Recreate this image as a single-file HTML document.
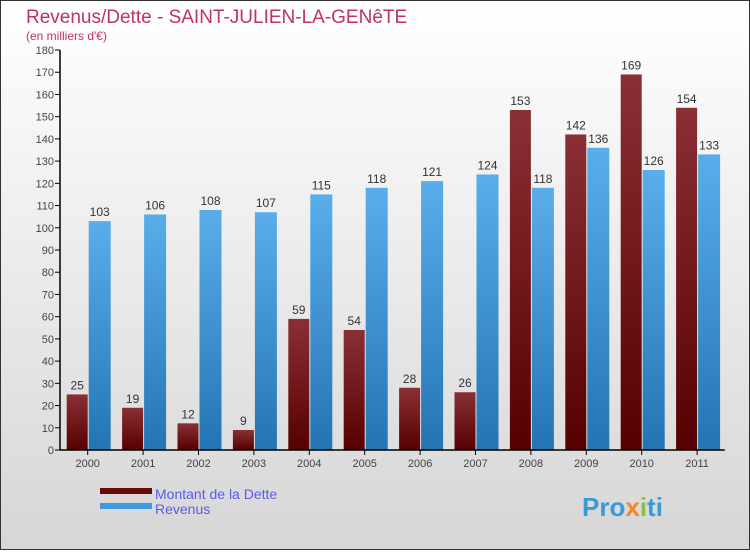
<!DOCTYPE html>
<html><head><meta charset="utf-8"><style>
body{margin:0}
#c{width:750px;height:550px;position:relative;font-family:"Liberation Sans",sans-serif}
</style></head><body>
<div id="c">
<svg id="s" width="750" height="550" xmlns="http://www.w3.org/2000/svg">
<defs>
<linearGradient id="bg" x1="0" y1="0" x2="0" y2="1"><stop offset="0" stop-color="#ffffff"/><stop offset="1" stop-color="#d6d6d6"/></linearGradient>
<linearGradient id="gd" x1="0" y1="0" x2="0" y2="1"><stop offset="0" stop-color="#8a3035"/><stop offset="1" stop-color="#560000"/></linearGradient>
<linearGradient id="gr" x1="0" y1="0" x2="0" y2="1"><stop offset="0" stop-color="#59aeea"/><stop offset="1" stop-color="#2474b4"/></linearGradient>
</defs>
<rect x="0.5" y="0.5" width="749" height="549" fill="url(#bg)" stroke="#333"/>
<text x="26" y="23" font-size="19" fill="#c0306a">Revenus/Dette - SAINT-JULIEN-LA-GENêTE</text>
<text x="26" y="40" font-size="12" fill="#c0306a">(en milliers d'€)</text>
<g id="plot"></g>
<rect x="100" y="488" width="52" height="6" fill="#6a0a0a"/>
<text x="155" y="499" font-size="14" fill="#5a5af0">Montant de la Dette</text>
<rect x="100" y="503" width="52" height="6" fill="#3d9ae0"/>
<text x="155" y="514" font-size="14" fill="#5a5af0">Revenus</text>
<text x="582" y="516" font-size="26" font-weight="bold" fill="#3a9ad8">Pro<tspan fill="#f08a20">x</tspan><tspan fill="#8cc040">i</tspan>ti</text>
</svg>
</div>
<script>
const years=["2000","2001","2002","2003","2004","2005","2006","2007","2008","2009","2010","2011"];
const dette=[25,19,12,9,59,54,28,26,153,142,169,154];
const revenus=[103,106,108,107,115,118,121,124,118,136,126,133];
const ticks=[0,10,20,30,40,50,60,70,80,90,100,110,120,130,140,150,160,170,180];
const NS="http://www.w3.org/2000/svg";
const g=document.getElementById("plot");
const x0=60,band=55.4,yb=450,yt=50,ymax=180;
const y=v=>yb-(v/ymax)*(yb-yt);
const cx=i=>x0+band*(i+0.5);
function mk(t,a){const e=document.createElementNS(NS,t);for(const k in a)e.setAttribute(k,a[k]);g.appendChild(e);return e;}
ticks.forEach(t=>{
 const l=mk("line",{x1:x0-5,x2:x0,y1:y(t),y2:y(t),stroke:"#000"});
 
 
 const tx=mk("text",{x:x0-6,y:y(t)+4,"font-size":11,"text-anchor":"end",fill:"#444"});tx.textContent=t;
 
 
});
years.forEach((yr,i)=>{
 const c=cx(i);
 const d=mk("rect",{x:c-21,y:y(dette[i]),width:21,height:yb-y(dette[i]),fill:"url(#gd)"});
 
 
 const r=mk("rect",{x:c+1,y:y(revenus[i]),width:22,height:yb-y(revenus[i]),fill:"url(#gr)"});
 
 
 const dl=mk("text",{x:c-10.5,y:y(dette[i])-5,"font-size":12,"text-anchor":"middle",fill:"#333"});dl.textContent=dette[i];
 
 
 const rl=mk("text",{x:c+12,y:y(revenus[i])-5,"font-size":12,"text-anchor":"middle",fill:"#333"});rl.textContent=revenus[i];
 
 
 const tk=mk("line",{x1:c,x2:c,y1:yb,y2:yb+5,stroke:"#000"});
 
 
 const xl=mk("text",{x:c,y:yb+17,"font-size":11,"text-anchor":"middle",fill:"#444"});xl.textContent=yr;
 
 
});
const ya=mk("line",{x1:x0,x2:x0,y1:yt,y2:yb,stroke:"#000","stroke-width":1.5});


const xa=mk("line",{x1:x0,x2:x0+band*12,y1:yb,y2:yb,stroke:"#000","stroke-width":1.5});


</script>
</body></html>
